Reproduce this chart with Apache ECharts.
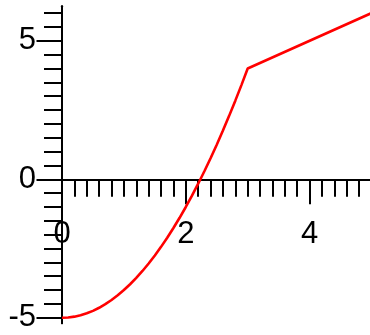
<!DOCTYPE html>
<html>
<head>
<meta charset="utf-8">
<script src="https://cdn.jsdelivr.net/npm/echarts@6/dist/echarts.min.js"></script>
<style>
  html, body { margin: 0; padding: 0; background: #fff; }
  #chart { width: 370px; height: 335px; }
</style>
</head>
<body>
<div id="chart"></div>
<script>
// Piecewise curve: parabola up to x = 3, then a straight segment to x = 5
const curveX = [0, 0.1, 0.2, 0.3, 0.4, 0.5, 0.6, 0.7, 0.8, 0.9, 1, 1.1, 1.2, 1.3, 1.4, 1.5,
  1.6, 1.7, 1.8, 1.9, 2, 2.1, 2.2, 2.3, 2.4, 2.5, 2.6, 2.7, 2.8, 2.9, 3, 5];
const curveY = [-5, -4.99, -4.96, -4.91, -4.84, -4.75, -4.64, -4.51, -4.36, -4.19, -4, -3.79, -3.56, -3.31, -3.04, -2.75,
  -2.44, -2.11, -1.76, -1.39, -1, -0.59, -0.16, 0.29, 0.76, 1.25, 1.76, 2.29, 2.84, 3.41, 4, 6];

// Tick positions and labels
const xMinorTicks = [0.2, 0.4, 0.6, 0.8, 1, 1.2, 1.4, 1.6, 1.8, 2.2, 2.4, 2.6, 2.8, 3, 3.2, 3.4, 3.6, 3.8, 4.2, 4.4, 4.6, 4.8];
const xMajorTicks = [0, 2, 4];
const yMinorTicks = [-4.5, -4, -3.5, -3, -2.5, -2, -1.5, -1, -0.5, 0.5, 1, 1.5, 2, 2.5, 3, 3.5, 4, 4.5, 5.5, 6];
const yMajorTicks = [-5, 0, 5];

const xRange = [0, 5];
const yRange = [-5.2, 6.25];

const FONT = 'Liberation Sans, Arial, sans-serif';
const lineStyle = { color: '#000', width: 2 };

const GRID_TOP = 6.2;
const GRID_HEIGHT = 317.1;
// distance from the bottom of the plot up to the y = 0 line
const zeroOffset = -GRID_HEIGHT * (0 - yRange[0]) / (yRange[1] - yRange[0]);

const chart = echarts.init(document.getElementById('chart'), null, { renderer: 'canvas' });

function labelDef(values, margin, padding) {
  return {
    show: true, customValues: values, margin, padding,
    hideOverlap: false, showMinLabel: true, showMaxLabel: true,
    fontSize: 31, fontFamily: FONT, color: '#000'
  };
}

function xAxisDef(ticks, len, labels) {
  return {
    type: 'value', min: xRange[0], max: xRange[1],
    position: 'bottom', offset: zeroOffset,
    axisLine: { show: true, onZero: false, lineStyle },
    axisTick: { show: true, length: len, customValues: ticks, lineStyle },
    axisLabel: labels ? labelDef(labels, 40, 0) : { show: false },
    splitLine: { show: false }
  };
}

function yAxisDef(ticks, len, labels) {
  return {
    type: 'value', min: yRange[0], max: yRange[1],
    position: 'left', offset: 0,
    axisLine: { show: true, onZero: false, lineStyle },
    axisTick: { show: true, length: len, customValues: ticks, lineStyle },
    axisLabel: labels ? labelDef(labels, 26, [4, 0, 0, 0]) : { show: false },
    splitLine: { show: false }
  };
}

chart.setOption({
  animation: false,
  grid: {
    left: 62, top: GRID_TOP, width: 309.5, height: GRID_HEIGHT,
    containLabel: false, outerBoundsMode: 'none'
  },
  xAxis: [
    xAxisDef(xMinorTicks, 17.5, null),
    xAxisDef(xMajorTicks, 25, xMajorTicks)
  ],
  yAxis: [
    yAxisDef(yMinorTicks, 18, null),
    yAxisDef(yMajorTicks, 25.5, yMajorTicks)
  ],
  series: [{
    type: 'line',
    xAxisIndex: 0, yAxisIndex: 0,
    data: curveX.map((x, i) => [x, curveY[i]]),
    showSymbol: false,
    smooth: false,
    clip: false,
    lineStyle: { color: '#ff0000', width: 2.6 }
  }]
});
</script>
</body>
</html>
